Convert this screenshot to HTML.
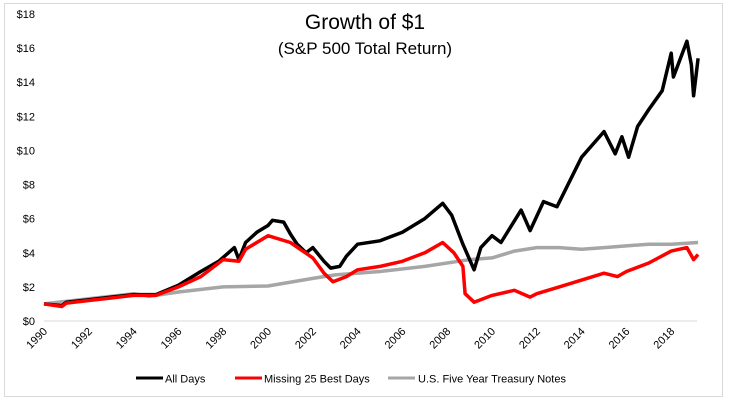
<!DOCTYPE html>
<html><head><meta charset="utf-8"><style>
html,body{margin:0;padding:0;background:#fff;}
svg{display:block;font-family:"Liberation Sans",Arial,sans-serif;}
</style></head><body>
<svg id="chart" width="731" height="407" viewBox="0 0 731 407">
<rect x="4.5" y="3.5" width="718" height="393" fill="#fff" stroke="#d9d9d9"/>
<text x="365" y="29" text-anchor="middle" font-size="21" fill="#000">Growth of $1</text>
<text x="365" y="54" text-anchor="middle" font-size="17" fill="#000">(S&amp;P 500 Total Return)</text>
<g id="yaxis"></g>
<g id="xaxis"></g>
<g id="series"></g>
<g>
<g><line x1="136" y1="378" x2="163" y2="378" stroke="#000" stroke-width="3"/><text x="165" y="382.5" font-size="11">All Days</text></g>
<g><line x1="235" y1="378" x2="262" y2="378" stroke="#f00" stroke-width="3"/><text x="264" y="382.5" font-size="11">Missing 25 Best Days</text></g>
<g><line x1="388" y1="378" x2="415" y2="378" stroke="#a6a6a6" stroke-width="3"/><text x="418" y="382.5" font-size="11">U.S. Five Year Treasury Notes</text></g>
</g>
</svg>
<script>
const yTicks=[0,2,4,6,8,10,12,14,16,18];
const xTicks=[1990,1992,1994,1996,1998,2000,2002,2004,2006,2008,2010,2012,2014,2016,2018];
const allDaysX=[1990,1990.8,1991,1992,1993,1994,1995,1996,1997,1997.8,1998.5,1998.7,1999,1999.5,2000,2000.2,2000.7,2001,2001.3,2001.7,2002,2002.5,2002.8,2003.2,2003.5,2004,2005,2006,2007,2007.8,2008.2,2008.7,2009.2,2009.5,2010,2010.4,2011.3,2011.7,2012.3,2012.9,2014,2015,2015.5,2015.8,2016.1,2016.5,2017,2017.6,2018,2018.1,2018.7,2018.9,2019.0,2019.2];
const allDaysY=[1.0,0.9,1.1,1.25,1.4,1.55,1.55,2.1,2.9,3.5,4.3,3.6,4.6,5.2,5.6,5.9,5.8,5.1,4.5,4.0,4.3,3.5,3.1,3.2,3.8,4.5,4.7,5.2,6.0,6.9,6.2,4.5,3.0,4.3,5.0,4.6,6.5,5.3,7.0,6.7,9.6,11.1,9.8,10.8,9.6,11.4,12.4,13.5,15.7,14.3,16.4,15.0,13.2,15.4];
const missX=[1990,1990.8,1991,1992,1993,1994,1995,1996,1997,1998,1998.7,1999,2000,2001,2002,2002.5,2002.9,2003.5,2004,2005,2006,2007,2007.8,2008.3,2008.7,2008.8,2009.2,2010,2011,2011.7,2012,2013,2014,2015,2015.6,2016,2017,2018,2018.7,2019,2019.2];
const missY=[1.0,0.85,1.05,1.2,1.35,1.5,1.5,2.0,2.6,3.6,3.5,4.2,5.0,4.6,3.7,2.8,2.3,2.6,3.0,3.2,3.5,4.0,4.6,4.0,3.2,1.6,1.1,1.5,1.8,1.4,1.6,2.0,2.4,2.8,2.6,2.9,3.4,4.1,4.3,3.6,3.9];
const tsyX=[1990,1992,1994,1994.7,1996,1998,2000,2002,2003,2005,2007,2008.5,2009,2010,2011,2012,2013,2014,2015,2016,2017,2018,2019.2];
const tsyY=[1.0,1.3,1.6,1.45,1.7,2.0,2.05,2.5,2.7,2.9,3.2,3.5,3.6,3.7,4.1,4.3,4.3,4.2,4.3,4.4,4.5,4.5,4.6];
const NS='http://www.w3.org/2000/svg';
function xs(v){return 44+(v-1990)*22.4;}
function ys(v){return 321-v*17.06;}
const ya=document.getElementById('yaxis'),xa=document.getElementById('xaxis'),sg=document.getElementById('series');
yTicks.forEach(t=>{const e=document.createElementNS(NS,'text');


e.setAttribute('x',35);e.setAttribute('y',ys(t)+4);e.setAttribute('text-anchor','end');e.setAttribute('font-size','11');e.textContent='$'+t;ya.appendChild(e);});
const al=document.createElementNS(NS,'line');


al.setAttribute('x1',44);al.setAttribute('x2',697);al.setAttribute('y1',ys(0));al.setAttribute('y2',ys(0));al.setAttribute('stroke','#d9d9d9');xa.appendChild(al);
xTicks.forEach(t=>{const e=document.createElementNS(NS,'text');


const x=xs(t)+4,y=332;e.setAttribute('x',x);e.setAttribute('y',y);e.setAttribute('text-anchor','end');e.setAttribute('font-size','11');e.setAttribute('transform','rotate(-45 '+x+' '+y+')');e.textContent=t;xa.appendChild(e);});
function line(X,Y,c,name){const p=document.createElementNS(NS,'polyline');


p.setAttribute('points',X.map((x,i)=>xs(x).toFixed(1)+','+ys(Y[i]).toFixed(1)).join(' '));p.setAttribute('fill','none');p.setAttribute('stroke',c);p.setAttribute('stroke-width','3.5');p.setAttribute('stroke-linejoin','round');sg.appendChild(p);}
line(tsyX,tsyY,'#a6a6a6','treasury-line');
line(allDaysX,allDaysY,'#000','all-days-line');
line(missX,missY,'#f00','missing-25-line');
</script>
</body></html>
